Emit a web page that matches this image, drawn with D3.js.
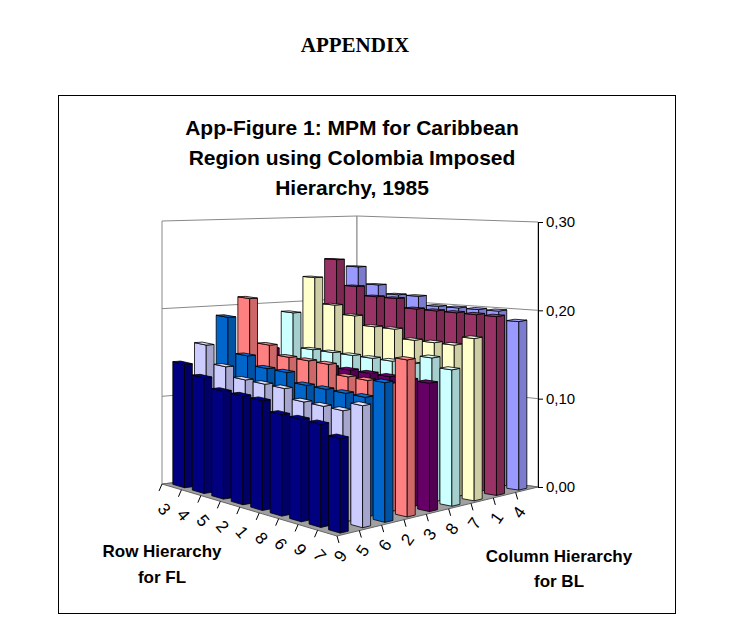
<!DOCTYPE html>
<html><head><meta charset="utf-8">
<script src="https://cdn.jsdelivr.net/npm/d3@7"></script>
<style>body{margin:0;background:#fff}</style>
</head><body>
<svg id="vis" width="732" height="641"></svg>
<script>
// row categories (along the left floor edge) and series (depth, along right edge)
var rows = ["3","4","5","2","1","8","6","9","7"];
var series = ["9","5","6","2","3","8","7","1","4"];
var colors = ["#000080","#CCCCFF","#0066CC","#FF8080","#660066","#CCFFFF","#FFFFCC","#993366","#9999FF"];
// values[series][row]
var values = [
  [0.14,0.13,0.12,0.12,0.12,0.11,0.11,0.11,0.10],
  [0.16,0.14,0.13,0.13,0.13,0.12,0.12,0.12,0.13],
  [0.19,0.15,0.14,0.14,0.13,0.13,0.13,0.13,0.15],
  [0.21,0.16,0.15,0.15,0.15,0.14,0.14,0.14,0.17],
  [0.15,0.14,0.14,0.14,0.14,0.14,0.14,0.14,0.14],
  [0.19,0.15,0.15,0.15,0.15,0.15,0.15,0.16,0.15],
  [0.23,0.20,0.19,0.18,0.18,0.17,0.17,0.17,0.18],
  [0.25,0.22,0.21,0.21,0.20,0.20,0.20,0.20,0.20],
  [0.24,0.22,0.21,0.21,0.20,0.20,0.20,0.20,0.19]
];
var ticks = [0, 0.1, 0.2, 0.3];

var svg = d3.select("#vis");
var font = "Arial, 'Liberation Sans', sans-serif";

// floor corners and pixel height of 0.30 at each corner
var L = [162,484], F = [337,536], R = [538,487], B = [357,462];
var kL = 263, kF = 285, kR = 265, kB = 246;
var hScale = d3.scaleLinear().domain([0, 0.3]).range([0, 1]);

function P(u, v, val) {
  var a = (1-u)*(1-v), b = u*(1-v), c = (1-u)*v, d = u*v;
  var x = L[0]*a + F[0]*b + B[0]*c + R[0]*d;
  var y = L[1]*a + F[1]*b + B[1]*c + R[1]*d;
  var k = kL*a + kF*b + kB*c + kR*d;
  return [x, y - hScale(val)*k];
}
function poly(pts) { return pts.map(function(p){ return p.join(","); }).join(" "); }

svg.append("text").attr("x", 355).attr("y", 52).attr("text-anchor","middle")
  .style("font-family","'Liberation Serif', 'DejaVu Serif', serif").style("font-size","21px")
  .style("font-weight","bold").text("APPENDIX");
svg.append("rect").attr("x",58.5).attr("y",95.5).attr("width",617).attr("height",518)
  .attr("fill","none").attr("stroke","#000");

["App-Figure 1: MPM for Caribbean","Region using Colombia Imposed","Hierarchy, 1985"].forEach(function(t,i){
  svg.append("text").attr("x",352).attr("y",135+i*30).attr("text-anchor","middle")
    .style("font-family",font).style("font-weight","bold").style("font-size","21px").text(t);
});

// walls
var g = svg.append("g");
g.append("polygon").attr("points", poly([P(0,0,0),P(0,1,0),P(0,1,0.3),P(0,0,0.3)]))
  .attr("fill","#fff").attr("stroke","#888");
g.append("polygon").attr("points", poly([P(0,1,0),P(1,1,0),P(1,1,0.3),P(0,1,0.3)]))
  .attr("fill","#fff").attr("stroke","#888");
ticks.slice(1,3).forEach(function(t){
  g.append("polyline").attr("points", poly([P(0,0,t),P(0,1,t),P(1,1,t)]))
    .attr("fill","none").attr("stroke","#888");
});
// floor
g.append("polygon").attr("points", poly([P(0,0,0),P(1,0,0),P(1,1,0),P(0,1,0)]))
  .attr("fill","#a0a0a0").attr("stroke","#666");

// bars
var n = rows.length, m = series.length;
var bw = 0.6/n, bd = 0.36/m;
var cells = [];
series.forEach(function(s, j){
  rows.forEach(function(r, i){
    cells.push({i:i, j:j, v:values[j][i], c:colors[j]});
  });
});
cells.sort(function(a,b){ return (a.i - a.j) - (b.i - b.j) || a.i - b.i; });
cells.forEach(function(d){
  var u0 = (d.i+0.5)/n - bw/2, u1 = u0 + bw;
  var v0 = (d.j+0.5)/m - bd/2, v1 = v0 + bd;
  var col = d3.color(d.c);
  var bg = g.append("g").attr("stroke","#000").attr("stroke-width",0.8).attr("stroke-linejoin","round");
  bg.append("polygon").attr("points", poly([P(u0,v0,0),P(u1,v0,0),P(u1,v0,d.v),P(u0,v0,d.v)]))
    .attr("fill", col.formatHex());
  bg.append("polygon").attr("points", poly([P(u1,v0,0),P(u1,v1,0),P(u1,v1,d.v),P(u1,v0,d.v)]))
    .attr("fill", col.darker(0.6).formatHex());
  bg.append("polygon").attr("points", poly([P(u0,v0,d.v),P(u1,v0,d.v),P(u1,v1,d.v),P(u0,v1,d.v)]))
    .attr("fill", col.brighter(0.3).formatHex());
});

// value axis at right corner
var yAxis = d3.scaleLinear().domain([0,0.3]).range([R[1], R[1]-kR]);
var ax = svg.append("g").attr("transform","translate("+R[0]+",0)")
  .call(d3.axisRight(yAxis).tickValues(ticks).tickSize(5)
    .tickFormat(function(t){ return d3.format(".2f")(t).replace(".",","); }));
ax.select(".domain").attr("stroke","#000");
ax.selectAll("text").style("font-family",font).style("font-size","15px");

// floor ticks and category labels
rows.forEach(function(r,i){
  var a = P(i/n,0,0), b = [a[0]-3, a[1]+7];
  svg.append("line").attr("x1",a[0]).attr("y1",a[1]).attr("x2",b[0]).attr("y2",b[1]).attr("stroke","#000");
  var p = P((i+0.5)/n,0,0);
  svg.append("text").attr("transform","translate("+(p[0]-12)+","+(p[1]+26)+") rotate(50)")
    .attr("text-anchor","middle").style("font-family",font).style("font-size","17px").text(r);
});
series.forEach(function(s,j){
  var a = P(1,j/m,0), b = [a[0]+2, a[1]+7];
  svg.append("line").attr("x1",a[0]).attr("y1",a[1]).attr("x2",b[0]).attr("y2",b[1]).attr("stroke","#000");
  var p = P(1,(j+0.5)/m,0);
  svg.append("text").attr("transform","translate("+(p[0]-3)+","+(p[1]+26)+") rotate(-55)")
    .attr("text-anchor","middle").style("font-family",font).style("font-size","17px").text(s);
});

[["Row Hierarchy",162,557],["for FL",162,583],["Column Hierarchy",559,562],["for BL",559,587]].forEach(function(t){
  svg.append("text").attr("x",t[1]).attr("y",t[2]).attr("text-anchor","middle")
    .style("font-family",font).style("font-weight","bold").style("font-size","17px").text(t[0]);
});
</script>
</body></html>
